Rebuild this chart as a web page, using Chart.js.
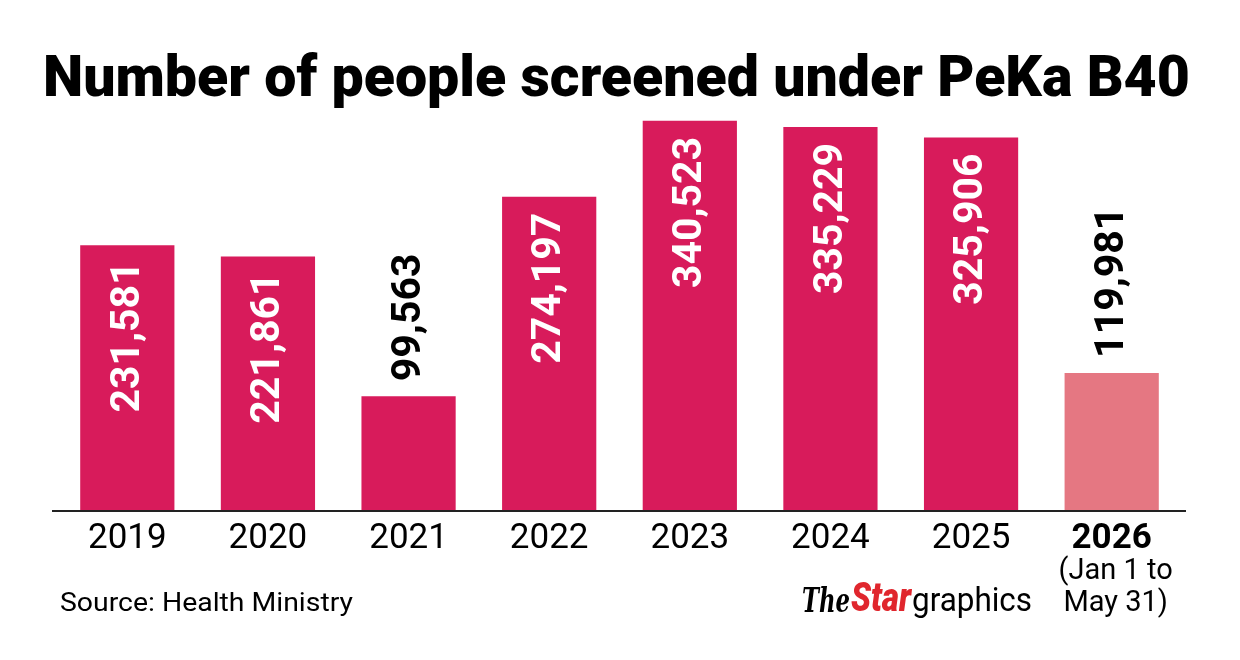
<!DOCTYPE html>
<html>
<head>
<meta charset="utf-8">
<script src="https://cdn.jsdelivr.net/npm/chart.js@4"></script>
<style>
  html, body { margin: 0; padding: 0; background: #fff; }
  #wrap { width: 1240px; height: 660px; }
</style>
</head>
<body>
<div id="wrap"><canvas id="chart" width="1240" height="660"></canvas></div>
<script>
const years = ['2019', '2020', '2021', '2022', '2023', '2024', '2025', '2026'];
const screened = [231581, 221861, 99563, 274197, 340523, 335229, 325906, 119981];
const barColors = ['#d81b5b', '#d81b5b', '#d81b5b', '#d81b5b', '#d81b5b', '#d81b5b', '#d81b5b', '#e57782'];
const partialNote = ['(Jan 1 to', 'May 31)'];
const titleText = 'Number of people screened under PeKa B40';
const sourceText = 'Source: Health Ministry';

const fmt = (v) => v.toLocaleString('en-US');

// fit text into a given width by squeezing horizontally
function fitText(ctx, text, x, y, width) {
    const w = ctx.measureText(text).width;
    const s = width / w;
    ctx.save();
    ctx.translate(x, y);
    ctx.scale(s, 1);
    ctx.fillText(text, 0, 0);
    ctx.restore();
}

const decorPlugin = {
    id: 'decor',
    afterDatasetsDraw(chart) {
        const ctx = chart.ctx;
        const meta = chart.getDatasetMeta(0);
        ctx.save();
        ctx.font = 'bold 41px Roboto';
        ctx.textBaseline = 'middle';
        meta.data.forEach((bar, i) => {
            const label = fmt(screened[i]);
            const h = bar.base - bar.y;
            ctx.save();
            ctx.translate(bar.x, bar.y);
            ctx.rotate(-Math.PI / 2);
            if (h > 200) {
                ctx.fillStyle = '#ffffff';
                ctx.textAlign = 'right';
                ctx.fillText(label, -16, 1);
            } else {
                ctx.fillStyle = '#000000';
                ctx.textAlign = 'left';
                ctx.fillText(label, 15, 1);
            }
            ctx.restore();
        });
        ctx.restore();
    },
    afterDraw(chart) {
        const ctx = chart.ctx;
        const area = chart.chartArea;
        const xScale = chart.scales.x;
        ctx.save();

        // title
        ctx.fillStyle = '#000';
        ctx.font = '900 57px Roboto';
        ctx.textBaseline = 'alphabetic';
        ctx.textAlign = 'left';
        fitText(ctx, titleText, 43, 96, 1147);

        // baseline
        ctx.strokeStyle = '#222';
        ctx.lineWidth = 2;
        ctx.beginPath();
        ctx.moveTo(52, area.bottom + 1);
        ctx.lineTo(1186, area.bottom + 1);
        ctx.stroke();

        // category labels
        ctx.textAlign = 'center';
        ctx.textBaseline = 'middle';
        years.forEach((y, i) => {
            const x = xScale.getPixelForValue(i);
            const last = i === years.length - 1;
            ctx.font = (last ? 'bold ' : '') + '35px Roboto';
            ctx.fillText(y, x, 539);
            if (last) {
                ctx.font = '29px Roboto';
                partialNote.forEach((t, k) => ctx.fillText(t, x + 4, 572 + k * 32));
            }
        });

        // source
        ctx.textAlign = 'left';
        ctx.textBaseline = 'alphabetic';
        ctx.font = '25px Roboto';
        fitText(ctx, sourceText, 60, 611, 293);

        // logo
        ctx.font = 'italic bold 34px "DejaVu Serif"';
        fitText(ctx, 'The', 802, 612, 48);
        ctx.fillStyle = '#e0262d';
        ctx.font = 'italic 900 40px Roboto';
        fitText(ctx, 'Star', 851, 611, 60);
        ctx.fillStyle = '#000';
        ctx.font = '33px Roboto';
        fitText(ctx, 'graphics', 912, 611, 120);

        ctx.restore();
    }
};

new Chart(document.getElementById('chart'), {
    type: 'bar',
    data: {
        labels: years,
        datasets: [{
            data: screened,
            backgroundColor: barColors,
            borderWidth: 0,
            barPercentage: 0.67,
            categoryPercentage: 1
        }]
    },
    options: {
        responsive: false,
        animation: false,
        layout: { padding: { left: 57, right: 58, top: 110, bottom: 150 } },
        scales: {
            x: { display: false },
            y: { display: false, min: 0, max: 350000 }
        },
        plugins: {
            legend: { display: false },
            tooltip: { enabled: false }
        }
    },
    plugins: [decorPlugin]
});
</script>
</body>
</html>
